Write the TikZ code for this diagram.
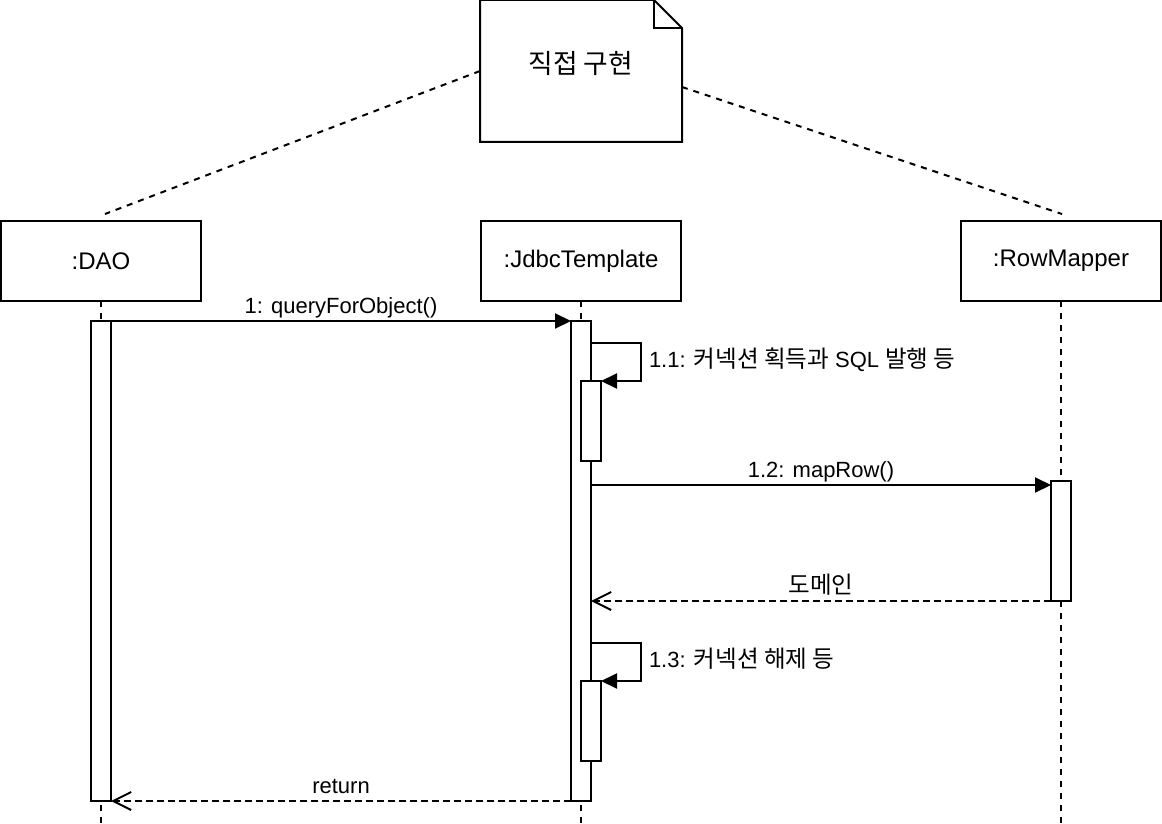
\documentclass[tikz,border=0pt]{standalone}
\usepackage{fontspec}
\setmainfont{Liberation Sans}
\newfontfamily\kr[Scale=1.07]{Noto Sans CJK KR}
\usetikzlibrary{positioning,calc,arrows.meta}

\begin{document}
\begin{tikzpicture}[x=1pt,y=-1pt,line width=2pt,
				head/.style={draw,rectangle,minimum width=200pt,minimum height=80pt,inner sep=0pt,outer sep=0pt,font=\fontsize{24}{28}\selectfont},
				bar/.style={draw,fill=white,rectangle,minimum width=20pt,inner sep=0pt,outer sep=0pt},
				life/.style={dash pattern=on 6pt off 6pt},
				msg/.style={-{Triangle[length=16pt,width=15pt]}},
				ret/.style={dash pattern=on 7pt off 4pt,-{Straight Barb[length=18pt,width=18pt]}},
				lbl/.style={font=\fontsize{22}{26}\selectfont,text height=16pt,text depth=5pt,inner sep=3pt,outer sep=0pt}]
				\useasboundingbox (0,0) rectangle (1162,824);
				\node (note) [minimum width=200pt,minimum height=140pt,inner sep=0pt,text depth=17pt,font=\fontsize{25}{30}\selectfont\kr] at (581,71) {직접 구현};
				\draw (note.north west) -- ([xshift=-28pt]note.north east) -- ([yshift=-28pt]note.north east) -- (note.south east) -- (note.south west) -- cycle;
				\draw ([xshift=-28pt]note.north east) |- ([yshift=-28pt]note.north east);
				
				\node (dao)    [head]                   at (101,261) {:DAO};
				\node (jdbc)   [head,right=280pt of dao]             {:JdbcTemplate};
				\node (mapper) [head,right=280pt of jdbc]            {:RowMapper};
				\coordinate (daoEnd)    at (101,824);
				\coordinate (jdbcEnd)   at (581,824);
				\coordinate (mapperEnd) at (1061,824);
				
				\draw[life] (note.west) -- ([shift={(4pt,7pt)}]dao.north);
				\draw[life] ([yshift=-16pt]note.east) -- ([shift={(1pt,7pt)}]mapper.north);
				\draw[life] (dao.south) -- (daoEnd);
				\draw[life] (jdbc.south) -- (jdbcEnd);
				\draw[life] (mapper.south) -- (mapperEnd);
				
				\node (daoAct)    [bar,minimum height=480pt,below=20pt of dao]  {};
				\node (jdbcAct)   [bar,minimum height=480pt,below=20pt of jdbc] {};
				\node (selfA)     [bar,minimum height=80pt]  at (591,421)  {};
				\node (mapperAct) [bar,minimum height=120pt] at (1061,541) {};
				\node (selfB)     [bar,minimum height=80pt]  at (591,721)  {};
				\coordinate (mapIn) at ([yshift=-4pt]mapperAct.north west);
				
				\draw[msg] (daoAct.north east) -- node[lbl,above] {1: queryForObject()} (jdbcAct.north west);
				\draw[msg] ([yshift=38pt]selfA.north) -- ++(50,0) |- node[lbl,right=5pt,pos=0.25] {1.1: {\kr 커넥션 획득과} SQL {\kr 발행 등}} (selfA.north east);
				\draw[msg] (mapIn -| jdbcAct.east) -- node[lbl,above] {1.2: mapRow()} (mapIn);
				\draw[ret] (mapperAct.south west) -- node[lbl,above] {\kr 도메인} (mapperAct.south west -| jdbcAct.east);
				\draw[msg] ([yshift=38pt]selfB.north) -- ++(50,0) |- node[lbl,right=5pt,pos=0.25] {1.3: {\kr 커넥션 해제 등}} (selfB.north east);
				\draw[ret] (jdbcAct.south west) -- node[lbl,above] {return} (daoAct.south east);
			\end{tikzpicture}
\end{document}
